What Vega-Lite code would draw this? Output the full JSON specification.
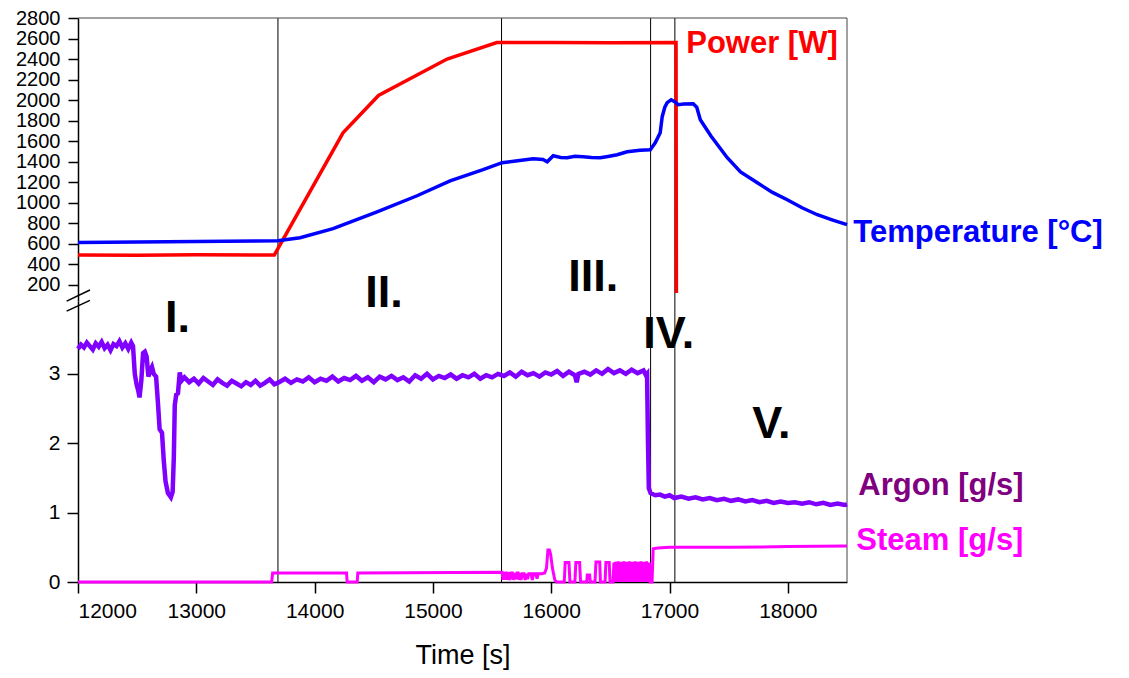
{
  "$schema": "https://vega.github.io/schema/vega-lite/v6.json",
  "padding": {"left": 11, "top": 8, "right": 5, "bottom": 5},
  "bounds": "flush",
  "spacing": 0,
  "config": {
    "view": {"stroke": null},
    "font": "Liberation Sans",
    "axis": {
      "labelFont": "Liberation Sans",
      "labelFontSize": 21,
      "labelColor": "black",
      "labelOverlap": false,
      "domainColor": "black",
      "tickColor": "black",
      "domainWidth": 1.5,
      "tickWidth": 1.5,
      "grid": false
    }
  },
  "datasets": {
    "phases": [{"t": 13690}, {"t": 15580}, {"t": 16840}, {"t": 17045}],
    "frame": [{"t": 18500}],
    "topline": [{"v": 2800}],
    "power": [
      {"t": 12000, "v": 490}, {"t": 12500, "v": 488}, {"t": 13000, "v": 492}, {"t": 13500, "v": 489},
      {"t": 13660, "v": 490}, {"t": 14240, "v": 1680}, {"t": 14540, "v": 2045}, {"t": 15120, "v": 2400},
      {"t": 15540, "v": 2560}, {"t": 16000, "v": 2562}, {"t": 16500, "v": 2558}, {"t": 17055, "v": 2562},
      {"t": 17058, "v": 120}
    ],
    "temp": [
      {"t": 12000, "v": 612}, {"t": 12500, "v": 615}, {"t": 13000, "v": 622}, {"t": 13500, "v": 625},
      {"t": 13690, "v": 628}, {"t": 13877, "v": 658}, {"t": 14156, "v": 746}, {"t": 14528, "v": 911},
      {"t": 14866, "v": 1067}, {"t": 15145, "v": 1213}, {"t": 15424, "v": 1321}, {"t": 15585, "v": 1389},
      {"t": 15700, "v": 1405}, {"t": 15847, "v": 1427}, {"t": 15930, "v": 1420}, {"t": 15966, "v": 1398},
      {"t": 16017, "v": 1457}, {"t": 16080, "v": 1440}, {"t": 16135, "v": 1437}, {"t": 16200, "v": 1452},
      {"t": 16270, "v": 1447}, {"t": 16340, "v": 1440}, {"t": 16414, "v": 1437}, {"t": 16480, "v": 1450},
      {"t": 16557, "v": 1467}, {"t": 16642, "v": 1496}, {"t": 16750, "v": 1510}, {"t": 16837, "v": 1516},
      {"t": 16879, "v": 1584}, {"t": 16921, "v": 1682}, {"t": 16938, "v": 1838}, {"t": 16960, "v": 1930},
      {"t": 16980, "v": 1975}, {"t": 17014, "v": 2003}, {"t": 17050, "v": 1980}, {"t": 17073, "v": 1955},
      {"t": 17120, "v": 1962}, {"t": 17200, "v": 1965}, {"t": 17230, "v": 1930}, {"t": 17260, "v": 1809},
      {"t": 17350, "v": 1650}, {"t": 17488, "v": 1438}, {"t": 17600, "v": 1300}, {"t": 17742, "v": 1194},
      {"t": 17870, "v": 1100}, {"t": 17995, "v": 1028}, {"t": 18120, "v": 950}, {"t": 18249, "v": 882},
      {"t": 18380, "v": 830}, {"t": 18500, "v": 785}
    ],
    "argon": [
      {"t": 12000, "v": 3.36}, {"t": 12025, "v": 3.42}, {"t": 12050, "v": 3.38}, {"t": 12075, "v": 3.45},
      {"t": 12100, "v": 3.40}, {"t": 12125, "v": 3.35}, {"t": 12150, "v": 3.44}, {"t": 12175, "v": 3.39},
      {"t": 12200, "v": 3.46}, {"t": 12225, "v": 3.37}, {"t": 12250, "v": 3.42}, {"t": 12275, "v": 3.34},
      {"t": 12300, "v": 3.43}, {"t": 12325, "v": 3.40}, {"t": 12350, "v": 3.47}, {"t": 12375, "v": 3.38},
      {"t": 12400, "v": 3.44}, {"t": 12425, "v": 3.36}, {"t": 12450, "v": 3.45}, {"t": 12465, "v": 3.40},
      {"t": 12480, "v": 3.0}, {"t": 12495, "v": 2.85}, {"t": 12510, "v": 2.75}, {"t": 12520, "v": 2.66},
      {"t": 12535, "v": 2.9}, {"t": 12550, "v": 3.3}, {"t": 12565, "v": 3.32}, {"t": 12580, "v": 3.25},
      {"t": 12595, "v": 2.96}, {"t": 12610, "v": 3.05}, {"t": 12625, "v": 3.1}, {"t": 12640, "v": 3.0},
      {"t": 12660, "v": 2.96}, {"t": 12675, "v": 2.6}, {"t": 12690, "v": 2.2}, {"t": 12710, "v": 2.15},
      {"t": 12725, "v": 1.75}, {"t": 12740, "v": 1.45}, {"t": 12760, "v": 1.28}, {"t": 12785, "v": 1.22},
      {"t": 12800, "v": 1.3}, {"t": 12810, "v": 1.8}, {"t": 12818, "v": 2.55}, {"t": 12830, "v": 2.7},
      {"t": 12845, "v": 2.72}, {"t": 12860, "v": 3.02}, {"t": 12875, "v": 2.9},
      {"t": 12900, "v": 2.95}, {"t": 12940, "v": 2.88}, {"t": 12980, "v": 2.93}, {"t": 13020, "v": 2.86},
      {"t": 13060, "v": 2.94}, {"t": 13100, "v": 2.89}, {"t": 13140, "v": 2.84}, {"t": 13180, "v": 2.92},
      {"t": 13220, "v": 2.87}, {"t": 13260, "v": 2.83}, {"t": 13300, "v": 2.9}, {"t": 13340, "v": 2.86},
      {"t": 13380, "v": 2.82}, {"t": 13420, "v": 2.88}, {"t": 13460, "v": 2.84}, {"t": 13500, "v": 2.9},
      {"t": 13540, "v": 2.83}, {"t": 13580, "v": 2.87}, {"t": 13620, "v": 2.92}, {"t": 13660, "v": 2.85},
      {"t": 13700, "v": 2.88}, {"t": 13750, "v": 2.93}, {"t": 13800, "v": 2.87}, {"t": 13850, "v": 2.92},
      {"t": 13900, "v": 2.89}, {"t": 13950, "v": 2.95}, {"t": 14000, "v": 2.88}, {"t": 14050, "v": 2.93},
      {"t": 14100, "v": 2.9}, {"t": 14150, "v": 2.96}, {"t": 14200, "v": 2.89}, {"t": 14250, "v": 2.94},
      {"t": 14300, "v": 2.91}, {"t": 14350, "v": 2.97}, {"t": 14400, "v": 2.9}, {"t": 14450, "v": 2.95},
      {"t": 14500, "v": 2.88}, {"t": 14550, "v": 2.96}, {"t": 14600, "v": 2.92}, {"t": 14650, "v": 2.97},
      {"t": 14700, "v": 2.91}, {"t": 14750, "v": 2.95}, {"t": 14800, "v": 2.89}, {"t": 14850, "v": 2.98},
      {"t": 14900, "v": 2.93}, {"t": 14950, "v": 3.0}, {"t": 15000, "v": 2.92}, {"t": 15050, "v": 2.97},
      {"t": 15100, "v": 2.94}, {"t": 15150, "v": 2.99}, {"t": 15200, "v": 2.93}, {"t": 15250, "v": 2.98},
      {"t": 15300, "v": 2.95}, {"t": 15350, "v": 3.0}, {"t": 15400, "v": 2.93}, {"t": 15450, "v": 2.98},
      {"t": 15500, "v": 2.95}, {"t": 15550, "v": 3.0}, {"t": 15600, "v": 2.97}, {"t": 15650, "v": 3.02},
      {"t": 15700, "v": 2.96}, {"t": 15750, "v": 3.03}, {"t": 15800, "v": 2.98}, {"t": 15850, "v": 3.01},
      {"t": 15900, "v": 2.96}, {"t": 15950, "v": 3.02}, {"t": 16000, "v": 2.99}, {"t": 16050, "v": 3.04},
      {"t": 16100, "v": 2.97}, {"t": 16150, "v": 3.03}, {"t": 16200, "v": 2.98}, {"t": 16215, "v": 2.88},
      {"t": 16230, "v": 3.0}, {"t": 16280, "v": 3.03}, {"t": 16330, "v": 2.99}, {"t": 16380, "v": 3.05},
      {"t": 16430, "v": 3.0}, {"t": 16480, "v": 3.07}, {"t": 16530, "v": 3.01}, {"t": 16580, "v": 3.05},
      {"t": 16630, "v": 3.0}, {"t": 16680, "v": 3.06}, {"t": 16730, "v": 3.01}, {"t": 16780, "v": 3.05},
      {"t": 16800, "v": 2.98}, {"t": 16810, "v": 3.0}, {"t": 16818, "v": 2.0}, {"t": 16825, "v": 1.35},
      {"t": 16840, "v": 1.28}, {"t": 16880, "v": 1.25}, {"t": 16920, "v": 1.26}, {"t": 16960, "v": 1.23},
      {"t": 17000, "v": 1.25}, {"t": 17040, "v": 1.21}, {"t": 17100, "v": 1.23}, {"t": 17160, "v": 1.2},
      {"t": 17220, "v": 1.22}, {"t": 17280, "v": 1.19}, {"t": 17340, "v": 1.21}, {"t": 17400, "v": 1.18},
      {"t": 17460, "v": 1.2}, {"t": 17520, "v": 1.17}, {"t": 17580, "v": 1.19}, {"t": 17640, "v": 1.16},
      {"t": 17700, "v": 1.18}, {"t": 17760, "v": 1.15}, {"t": 17820, "v": 1.17}, {"t": 17880, "v": 1.14},
      {"t": 17940, "v": 1.16}, {"t": 18000, "v": 1.14}, {"t": 18060, "v": 1.15}, {"t": 18120, "v": 1.13},
      {"t": 18180, "v": 1.15}, {"t": 18240, "v": 1.12}, {"t": 18300, "v": 1.14}, {"t": 18360, "v": 1.11},
      {"t": 18420, "v": 1.13}, {"t": 18480, "v": 1.11}, {"t": 18500, "v": 1.12}
    ],
    "steam": [
      {"t": 12000, "v": 0}, {"t": 13637, "v": 0}, {"t": 13645, "v": 0.13}, {"t": 14270, "v": 0.13},
      {"t": 14275, "v": 0}, {"t": 14360, "v": 0}, {"t": 14365, "v": 0.13}, {"t": 15580, "v": 0.14},
      {"t": 15585, "v": 0.14}, {"t": 15592, "v": 0.03}, {"t": 15600, "v": 0.14}, {"t": 15608, "v": 0.03},
      {"t": 15615, "v": 0.13}, {"t": 15622, "v": 0.13}, {"t": 15630, "v": 0.03}, {"t": 15640, "v": 0.14},
      {"t": 15650, "v": 0.03}, {"t": 15660, "v": 0.13}, {"t": 15672, "v": 0.13}, {"t": 15680, "v": 0.03},
      {"t": 15690, "v": 0.13}, {"t": 15700, "v": 0.04}, {"t": 15710, "v": 0.13}, {"t": 15720, "v": 0.13},
      {"t": 15728, "v": 0.03}, {"t": 15736, "v": 0.13}, {"t": 15745, "v": 0.03}, {"t": 15755, "v": 0.12},
      {"t": 15770, "v": 0.12}, {"t": 15780, "v": 0.03}, {"t": 15790, "v": 0.12}, {"t": 15800, "v": 0.04},
      {"t": 15810, "v": 0.12}, {"t": 15830, "v": 0.12}, {"t": 15840, "v": 0.03}, {"t": 15850, "v": 0.12},
      {"t": 15870, "v": 0.12}, {"t": 15880, "v": 0.05}, {"t": 15890, "v": 0.12}, {"t": 15920, "v": 0.12},
      {"t": 15945, "v": 0.13}, {"t": 15960, "v": 0.2}, {"t": 15972, "v": 0.46}, {"t": 15985, "v": 0.46},
      {"t": 15995, "v": 0.4}, {"t": 16010, "v": 0.2}, {"t": 16030, "v": 0.03}, {"t": 16045, "v": 0},
      {"t": 16110, "v": 0}, {"t": 16118, "v": 0.28}, {"t": 16150, "v": 0.28}, {"t": 16158, "v": 0},
      {"t": 16200, "v": 0}, {"t": 16208, "v": 0.28}, {"t": 16240, "v": 0.28}, {"t": 16248, "v": 0},
      {"t": 16300, "v": 0}, {"t": 16305, "v": 0.1}, {"t": 16325, "v": 0.1}, {"t": 16330, "v": 0},
      {"t": 16370, "v": 0}, {"t": 16378, "v": 0.29}, {"t": 16410, "v": 0.29}, {"t": 16416, "v": 0},
      {"t": 16455, "v": 0}, {"t": 16462, "v": 0.28}, {"t": 16490, "v": 0.28}, {"t": 16497, "v": 0},
      {"t": 16522, "v": 0}, {"t": 16530, "v": 0.28}, {"t": 16536, "v": 0}, {"t": 16542, "v": 0.29},
      {"t": 16548, "v": 0}, {"t": 16554, "v": 0.28}, {"t": 16560, "v": 0}, {"t": 16566, "v": 0.3},
      {"t": 16572, "v": 0}, {"t": 16578, "v": 0.28}, {"t": 16584, "v": 0}, {"t": 16590, "v": 0.29},
      {"t": 16596, "v": 0}, {"t": 16602, "v": 0.28}, {"t": 16608, "v": 0}, {"t": 16614, "v": 0.3},
      {"t": 16620, "v": 0}, {"t": 16626, "v": 0.28}, {"t": 16632, "v": 0}, {"t": 16638, "v": 0.29},
      {"t": 16644, "v": 0}, {"t": 16650, "v": 0.28}, {"t": 16656, "v": 0}, {"t": 16662, "v": 0.3},
      {"t": 16668, "v": 0}, {"t": 16674, "v": 0.28}, {"t": 16680, "v": 0}, {"t": 16686, "v": 0.29},
      {"t": 16692, "v": 0}, {"t": 16698, "v": 0.28}, {"t": 16704, "v": 0}, {"t": 16710, "v": 0.3},
      {"t": 16716, "v": 0}, {"t": 16722, "v": 0.28}, {"t": 16728, "v": 0}, {"t": 16734, "v": 0.29},
      {"t": 16740, "v": 0}, {"t": 16746, "v": 0.28}, {"t": 16752, "v": 0}, {"t": 16758, "v": 0.3},
      {"t": 16764, "v": 0}, {"t": 16770, "v": 0.28}, {"t": 16776, "v": 0}, {"t": 16782, "v": 0.29},
      {"t": 16788, "v": 0}, {"t": 16794, "v": 0.28}, {"t": 16800, "v": 0}, {"t": 16806, "v": 0.3},
      {"t": 16812, "v": 0}, {"t": 16818, "v": 0.28}, {"t": 16824, "v": 0}, {"t": 16830, "v": 0.28},
      {"t": 16836, "v": 0}, {"t": 16852, "v": 0}, {"t": 16862, "v": 0.48}, {"t": 16900, "v": 0.49},
      {"t": 17000, "v": 0.5}, {"t": 17500, "v": 0.5}, {"t": 18000, "v": 0.51}, {"t": 18500, "v": 0.52}
    ],
    "toplabels": [
      {"label": "Power [W]", "t": 17141, "v": 2462, "color": "#ff0000"},
      {"label": "Temperature [°C]", "t": 18553, "v": 619, "color": "#0000ff"}
    ],
    "bottomlabels": [
      {"label": "Argon [g/s]", "t": 18596, "v": 1.26, "color": "#800080"},
      {"label": "Steam [g/s]", "t": 18579, "v": 0.466, "color": "#ff00ff"}
    ],
    "numerals": [
      {"label": "I.", "t": 12736, "v": 3.61},
      {"label": "II.", "t": 14427, "v": 3.97},
      {"label": "III.", "t": 16143, "v": 4.19},
      {"label": "IV.", "t": 16778, "v": 3.37},
      {"label": "V.", "t": 17699, "v": 2.08}
    ],
    "breaks": [
      {"t": 11904, "v": 4.049, "t2": 12101, "v2": 4.208},
      {"t": 11904, "v": 3.905, "t2": 12101, "v2": 4.059}
    ]
  },
  "vconcat": [
    {
      "width": 769,
      "height": 283,
      "layer": [
        {
          "data": {"name": "phases"},
          "mark": {"type": "rule", "color": "black", "strokeWidth": 1},
          "encoding": {"x": {"field": "t", "type": "quantitative", "scale": {"domain": [12000, 18500], "nice": false, "zero": false}, "axis": null}}
        },
        {
          "data": {"name": "frame"},
          "mark": {"type": "rule", "color": "#444444", "strokeWidth": 1},
          "encoding": {"x": {"field": "t", "type": "quantitative", "axis": null}}
        },
        {
          "data": {"name": "topline"},
          "mark": {"type": "rule", "color": "#444444", "strokeWidth": 1},
          "encoding": {"y": {"field": "v", "type": "quantitative", "scale": {"domain": [41, 2800], "nice": false, "zero": false},
            "axis": {"title": null, "values": [200, 400, 600, 800, 1000, 1200, 1400, 1600, 1800, 2000, 2200, 2400, 2600, 2800], "format": "d", "labelOverlap": false, "labelSeparation": -6, "labelFontSize": 20, "tickSize": 10, "labelPadding": 8, "minExtent": 67, "maxExtent": 67}}}
        },
        {
          "data": {"name": "power"},
          "mark": {"type": "line", "color": "#ff0000", "strokeWidth": 3.5},
          "encoding": {
            "x": {"field": "t", "type": "quantitative", "axis": null},
            "y": {"field": "v", "type": "quantitative",
              "axis": {"title": null, "values": [200, 400, 600, 800, 1000, 1200, 1400, 1600, 1800, 2000, 2200, 2400, 2600, 2800], "format": "d", "labelOverlap": false, "labelSeparation": -6, "labelFontSize": 20, "tickSize": 10, "labelPadding": 8, "minExtent": 67, "maxExtent": 67}}
          }
        },
        {
          "data": {"name": "temp"},
          "mark": {"type": "line", "color": "#0000ff", "strokeWidth": 3.5},
          "encoding": {
            "x": {"field": "t", "type": "quantitative", "axis": null},
            "y": {"field": "v", "type": "quantitative",
              "axis": {"title": null, "values": [200, 400, 600, 800, 1000, 1200, 1400, 1600, 1800, 2000, 2200, 2400, 2600, 2800], "format": "d", "labelOverlap": false, "labelSeparation": -6, "labelFontSize": 20, "tickSize": 10, "labelPadding": 8, "minExtent": 67, "maxExtent": 67}}
          }
        },
        {
          "data": {"name": "toplabels"},
          "mark": {"type": "text", "align": "left", "baseline": "alphabetic", "fontSize": 31, "fontWeight": "bold", "font": "Liberation Sans"},
          "encoding": {
            "x": {"field": "t", "type": "quantitative", "axis": null},
            "y": {"field": "v", "type": "quantitative",
              "axis": {"title": null, "values": [200, 400, 600, 800, 1000, 1200, 1400, 1600, 1800, 2000, 2200, 2400, 2600, 2800], "format": "d", "labelOverlap": false, "labelSeparation": -6, "labelFontSize": 20, "tickSize": 10, "labelPadding": 8, "minExtent": 67, "maxExtent": 67}},
            "text": {"field": "label"},
            "color": {"field": "color", "type": "nominal", "scale": null}
          }
        }
      ]
    },
    {
      "width": 769,
      "height": 281,
      "layer": [
        {
          "data": {"name": "phases"},
          "mark": {"type": "rule", "color": "black", "strokeWidth": 1},
          "encoding": {"x": {"field": "t", "type": "quantitative", "scale": {"domain": [12000, 18500], "nice": false, "zero": false},
            "axis": {
              "title": "Time   [s]",
              "titleFont": "Liberation Sans",
              "titleFontSize": 27,
              "titleFontWeight": "normal",
              "titleColor": "black",
              "titlePadding": 21,
              "values": [12000, 13000, 14000, 15000, 16000, 17000, 18000],
              "format": "d",
              "labelOverlap": false,
              "tickSize": 11,
              "labelPadding": 7
            }}}
        },
        {
          "data": {"name": "frame"},
          "mark": {"type": "rule", "color": "#444444", "strokeWidth": 1},
          "encoding": {"x": {"field": "t", "type": "quantitative"}}
        },
        {
          "data": {"name": "argon"},
          "mark": {"type": "line", "color": "#7f00ff", "strokeWidth": 4.5},
          "encoding": {
            "x": {"field": "t", "type": "quantitative"},
            "y": {"field": "v", "type": "quantitative", "scale": {"domain": [0, 4.05], "nice": false, "zero": false},
              "axis": {
                "title": null,
                "values": [0, 1, 2, 3],
                "format": "d",
                "labelOverlap": false,
                "tickSize": 11,
                "labelPadding": 7,
                "minExtent": 67,
                "maxExtent": 67
              }}
          }
        },
        {
          "data": {"name": "steam"},
          "mark": {"type": "line", "color": "#ff00ff", "strokeWidth": 3},
          "encoding": {
            "x": {"field": "t", "type": "quantitative"},
            "y": {"field": "v", "type": "quantitative"}
          }
        },
        {
          "data": {"name": "breaks"},
          "mark": {"type": "rule", "color": "black", "strokeWidth": 1.5},
          "encoding": {
            "x": {"field": "t", "type": "quantitative"},
            "x2": {"field": "t2"},
            "y": {"field": "v", "type": "quantitative"},
            "y2": {"field": "v2"}
          }
        },
        {
          "data": {"name": "bottomlabels"},
          "mark": {"type": "text", "align": "left", "baseline": "alphabetic", "fontSize": 31, "fontWeight": "bold", "font": "Liberation Sans"},
          "encoding": {
            "x": {"field": "t", "type": "quantitative"},
            "y": {"field": "v", "type": "quantitative"},
            "text": {"field": "label"},
            "color": {"field": "color", "type": "nominal", "scale": null}
          }
        },
        {
          "data": {"name": "numerals"},
          "mark": {"type": "text", "align": "left", "baseline": "alphabetic", "fontSize": 45, "fontWeight": "bold", "font": "Liberation Sans", "color": "black"},
          "encoding": {
            "x": {"field": "t", "type": "quantitative"},
            "y": {"field": "v", "type": "quantitative"},
            "text": {"field": "label"}
          }
        }
      ]
    }
  ]
}
